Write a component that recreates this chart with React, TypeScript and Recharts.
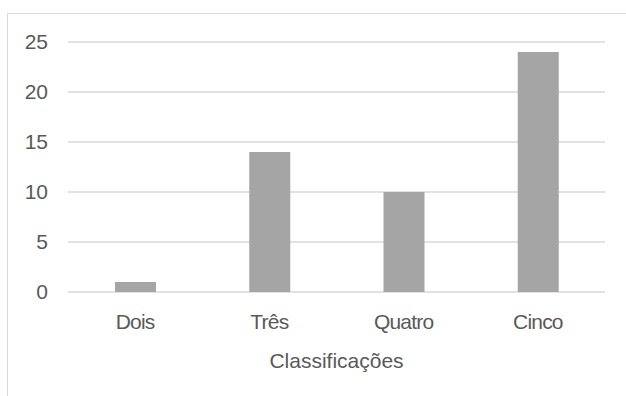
import { BarChart, Bar, XAxis, YAxis, CartesianGrid } from "recharts";

const categories = ["Dois", "Três", "Quatro", "Cinco"];
const counts = [1, 14, 10, 24];
const yTicks = [0, 5, 10, 15, 20, 25];
const axisTitle = "Classificações";

const chartData = categories.map((name, i) => ({ name, count: counts[i] }));

const FONT = '"Liberation Sans", Arial, sans-serif';
const TEXT = "#595959";
const GRID = "#d9d9d9";
const BAR = "#a5a5a5";

const textStyle = {
  fill: TEXT,
  fontSize: 21,
  fontFamily: FONT,
};

export default function App() {
  return (
    <div
      style={{
        position: "absolute",
        left: 0,
        top: 0,
        width: 626,
        height: 396,
        overflow: "hidden",
        background: "#fff",
        fontFamily: FONT,
      }}
    >
      {/* chart area frame, its right and bottom edges fall outside the view */}
      <div
        style={{
          position: "absolute",
          left: 7,
          top: 13,
          width: 700,
          height: 500,
          border: `1px solid ${GRID}`,
        }}
      />
      <div style={{ position: "absolute", left: 0, top: 0 }}>
        <BarChart
          width={626}
          height={396}
          data={chartData}
          margin={{ top: 42, right: 21, bottom: 44, left: 0 }}
        >
          <CartesianGrid vertical={false} stroke={GRID} strokeWidth={1.3} />
          <XAxis
            dataKey="name"
            axisLine={false}
            tickLine={false}
            height={60}
            tickMargin={16}
            tick={{ ...textStyle, letterSpacing: -0.8 }}
            label={{
              value: axisTitle,
              position: "bottom",
              offset: 1,
              ...textStyle,
            }}
          />
          <YAxis
            width={68}
            domain={[0, 25]}
            ticks={yTicks}
            axisLine={false}
            tickLine={false}
            tickMargin={14}
            tick={textStyle}
          />
          <Bar
            dataKey="count"
            fill={BAR}
            barSize={41}
            isAnimationActive={false}
          />
        </BarChart>
      </div>
    </div>
  );
}
